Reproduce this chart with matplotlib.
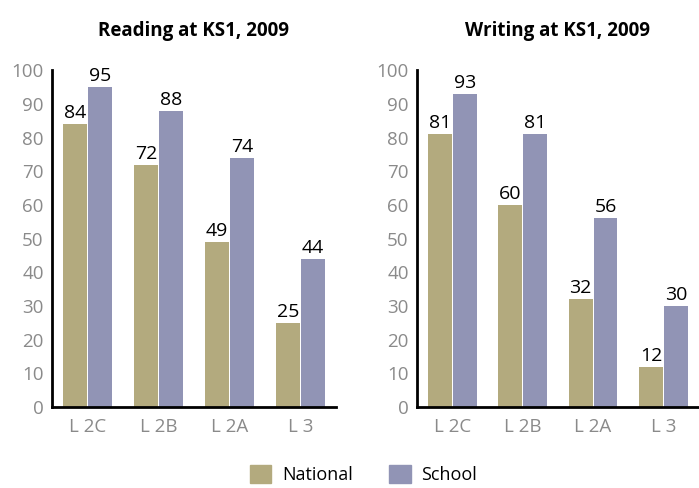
import matplotlib.pyplot as plt
import numpy as np
from matplotlib.patches import Patch

plt.rcParams['font.family'] = ['Open Sans', 'DejaVu Sans']

levels = ["L 2C", "L 2B", "L 2A", "L 3"]
reading_national = [84, 72, 49, 25]
reading_school = [95, 88, 74, 44]
writing_national = [81, 60, 32, 12]
writing_school = [93, 81, 56, 30]

col_national = "#b3aa7e"
col_school = "#9194b5"

fig = plt.figure(figsize=(6.99, 4.88), dpi=100)
ax1 = fig.add_axes([0.0744, 0.166, 0.406, 0.690])
ax2 = fig.add_axes([0.5966, 0.166, 0.403, 0.690])


def draw(ax, title, national, school):
    x = np.arange(len(levels))
    w = 0.338
    b1 = ax.bar(x - w / 2 - 0.007, national, w, color=col_national)
    b2 = ax.bar(x + w / 2 + 0.007, school, w, color=col_school)
    for bars in (b1, b2):
        for b in bars:
            ax.text(b.get_x() + b.get_width() / 2, b.get_height() + 0.6,
                    str(int(b.get_height())), ha="center", va="bottom",
                    fontsize=14, color="black")
    ax.set_xlim(-0.5, 3.5)
    ax.set_ylim(0, 100)
    ax.set_yticks(range(0, 101, 10))
    ax.set_xticks(x)
    ax.set_xticklabels(levels)
    ax.tick_params(length=0, labelsize=13.5, colors="#8a8a8a", pad=6)
    ax.tick_params(axis="x", pad=8)
    for s in ("top", "right"):
        ax.spines[s].set_visible(False)
    for s in ("left", "bottom"):
        ax.spines[s].set_linewidth(2)
        ax.spines[s].set_color("black")
    ax.set_title(title, fontsize=13.5, fontweight="bold", pad=25)


draw(ax1, "Reading at KS1, 2009", reading_national, reading_school)
draw(ax2, "Writing at KS1, 2009", writing_national, writing_school)

handles = [Patch(color=col_national, label="National"),
           Patch(color=col_school, label="School")]
fig.legend(handles=handles, loc="lower center", ncol=2, frameon=False,
           bbox_to_anchor=(0.52, -0.025), fontsize=13, handlelength=1.2,
           handleheight=1.2, handletextpad=0.6, columnspacing=2.0)

fig.savefig("out.png", dpi=100)
